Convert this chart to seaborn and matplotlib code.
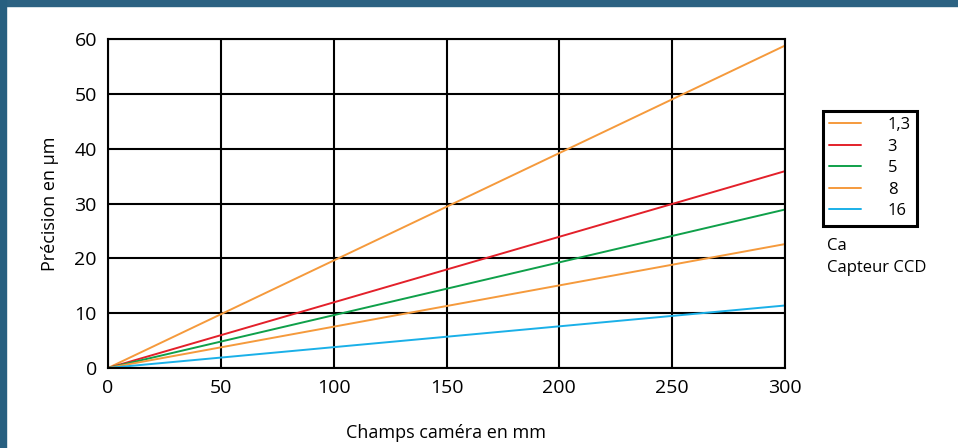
import numpy as np
import pandas as pd
import seaborn as sns
import matplotlib.pyplot as plt
from matplotlib.patches import Rectangle

# champ caméra (mm) et précision (µm)
champ = [0, 300]
series = ['1,3', '3', '5', '8', '16']
precision = {
    '1,3': [0, 58.8],
    '3': [0, 35.9],
    '5': [0, 28.9],
    '8': [0, 22.6],
    '16': [0, 11.4],
}
couleurs = ['#f59a3c', '#e3202a', '#0fa04a', '#f59a3c', '#1ab0e8']

rows = []
for s in series:
    for x, y in zip(champ, precision[s]):
        rows.append({'champ': x, 'precision': y, 'capteur': s})
df = pd.DataFrame(rows)

sns.set_style('white')
plt.rcParams['font.family'] = ['Open Sans', 'DejaVu Sans']
plt.rcParams['text.color'] = 'black'
plt.rcParams['axes.labelcolor'] = 'black'
plt.rcParams['xtick.labelcolor'] = 'black'
plt.rcParams['ytick.labelcolor'] = 'black'

fig = plt.figure(figsize=(9.58, 4.48), dpi=100)
ax = fig.add_axes([108 / 958, 1 - 368 / 448, (785 - 108) / 958, (368 - 39) / 448])

sns.lineplot(data=df, x='champ', y='precision', hue='capteur', hue_order=series,
             palette=couleurs, linewidth=1.4, ax=ax, legend=False)

ax.set_xlim(0, 300)
ax.set_ylim(0, 60)
ax.set_xticks(np.arange(0, 301, 50))
ax.set_yticks(np.arange(0, 61, 10))
ax.grid(True, color='black', linewidth=1.5)
ax.set_axisbelow(True)
for sp in ax.spines.values():
    sp.set_color('black')
    sp.set_linewidth(1.5)
    sp.set_visible(True)
ax.tick_params(axis='both', direction='out', length=5, width=1.3, color='black',
               labelsize=14, pad=3)
ax.set_xlabel('Champs caméra en mm', fontsize=13, labelpad=19)
ax.set_ylabel('Précision en µm', fontsize=13, labelpad=11)

handles = [plt.Line2D([], [], color=c, linewidth=1.4) for c in couleurs]
leg = fig.legend(handles, series, loc='upper left', bbox_to_anchor=(823 / 958, 1 - 111 / 448),
                 frameon=True, fancybox=False, fontsize=12, handlelength=1.9,
                 handletextpad=1.6, borderpad=0.38, labelspacing=0.33, borderaxespad=0)
leg.get_frame().set_edgecolor('black')
leg.get_frame().set_linewidth(2.2)
leg.get_frame().set_alpha(1)

fig.text(827 / 958, 1 - 246 / 448, 'Ca', fontsize=12, va='center')
fig.text(827 / 958, 1 - 268 / 448, 'Capteur CCD', fontsize=12, va='center')

# bandeau bleu en haut et à gauche
fig.patches.append(Rectangle((0, 1 - 6 / 448), 1, 6 / 448, transform=fig.transFigure,
                             color='#2c6282', zorder=-1))
fig.patches.append(Rectangle((0, 0), 6 / 958, 1, transform=fig.transFigure,
                             color='#275f80', zorder=-1))

fig.savefig('out.png', dpi=100)
